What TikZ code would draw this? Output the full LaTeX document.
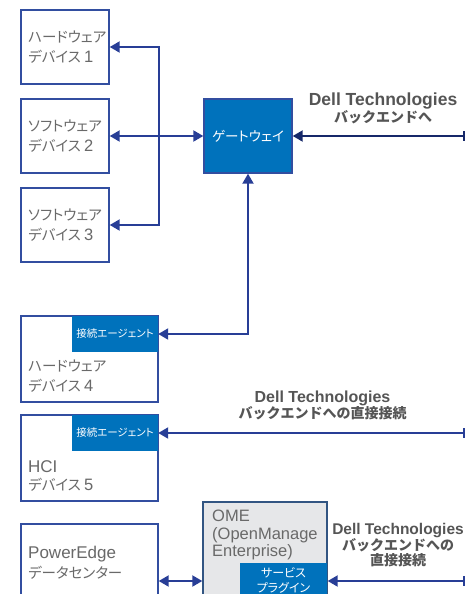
\documentclass[tikz,border=0pt]{standalone}
\usepackage{fontspec}
\setmainfont{Liberation Sans}
\newfontfamily\jp{Noto Sans CJK JP}
\newfontfamily\jpp{Noto Sans CJK JP}[RawFeature=+palt]
\newcommand{\dg}[1]{{\fontspec{Liberation Sans}\fontsize{16.5}{19}\selectfont #1}}
\usetikzlibrary{arrows.meta}
\definecolor{boxblue}{RGB}{50,78,160}
\definecolor{arrowblue}{RGB}{40,62,150}
\definecolor{navy}{RGB}{22,40,105}
\definecolor{dellblue}{RGB}{0,114,188}
\definecolor{txtgray}{RGB}{105,105,105}
\definecolor{lblgray}{RGB}{85,85,85}
\definecolor{omegray}{RGB}{230,231,233}
\definecolor{omeborder}{RGB}{50,85,130}
\begin{document}
\begin{tikzpicture}[x=1pt,y=-1pt,
  devbox/.style={draw=boxblue,line width=1.4pt,fill=white,inner sep=0pt},
  tabbox/.style={fill=dellblue,inner sep=0pt},
  tabtext/.style={text=white,inner sep=0pt,align=center},
  devtext/.style={anchor=west,align=left,inner sep=0pt,text=txtgray},
  jpt/.style={font=\jpp\fontsize{14.5}{19.5}\selectfont},
  link/.style={draw=arrowblue,line width=2pt,line join=miter,{Triangle[length=10pt,width=11pt]}-{Triangle[length=10pt,width=11pt]}},
  back/.style={draw=arrowblue,line width=2pt,{Bar[width=10pt,line width=1.5pt]}-{Triangle[length=10pt,width=11pt]}},
  dell/.style={align=center,inner sep=0pt,text=lblgray}
]
\useasboundingbox (0,0) rectangle (465,594);
\clip (0,0) rectangle (465,594);

% device boxes 1-3
\node[devbox,minimum width=88pt,minimum height=74pt] (d1) at (65,47) {};
\node[devtext,jpt] (t1) at (28,47) {ハードウェア\\デバイス \dg{1}};
\node[devbox,minimum width=88pt,minimum height=74pt] (d2) at (65,136) {};
\node[devtext,jpt] (t2) at (28,136) {ソフトウェア\\デバイス \dg{2}};
\node[devbox,minimum width=88pt,minimum height=74pt] (d3) at (65,225) {};
\node[devtext,jpt] (t3) at (28,225) {ソフトウェア\\デバイス \dg{3}};

% gateway
\node[fill=dellblue,draw=boxblue,line width=1.4pt,minimum width=88pt,minimum height=74pt,inner sep=0pt,text=white,font=\jpp\fontsize{13.5}{16}\selectfont] (gw) at (248,136) {ゲートウェイ};

% device 4
\node[devbox,minimum width=137pt,minimum height=86pt] (d4) at (89.5,359) {};
\node[tabbox,minimum width=86pt,minimum height=36pt] (a4) at (115,334) {};
\draw[boxblue,line width=1.4pt] (d4.north west) rectangle (d4.south east);
\node[tabtext,font=\jpp\fontsize{10.5}{12}\selectfont] (a4t) at (a4.center) {接続エージェント};
\node[devtext,jpt] (t4) at (28,376) {ハードウェア\\デバイス \dg{4}};

% device 5
\node[devbox,minimum width=137pt,minimum height=86pt] (d5) at (89.5,458) {};
\node[tabbox,minimum width=86pt,minimum height=36pt] (a5) at (115,433) {};
\draw[boxblue,line width=1.4pt] (d5.north west) rectangle (d5.south east);
\node[tabtext,font=\jpp\fontsize{10.5}{12}\selectfont] (a5t) at (a5.center) {接続エージェント};
\node[devtext,font=\jpp\fontsize{14.5}{18.5}\selectfont] (t5) at (28,476) {{\fontspec{Liberation Sans}\fontsize{17}{18.5}\selectfont HCI}\\デバイス \dg{5}};

% PowerEdge
\node[devbox,minimum width=137pt,minimum height=96pt] (d6) at (89.5,572) {};
\node[devtext,font=\jpp\fontsize{14.5}{20}\selectfont] (t6) at (28,563) {{\fontspec{Liberation Sans}\fontsize{17}{20}\selectfont PowerEdge}\\データセンター};

% OME
\node[fill=omegray,draw=omeborder,line width=1.4pt,minimum width=124pt,minimum height=118pt,inner sep=0pt] (ome) at (265,561) {};
\node[devtext,font=\fontsize{16.5}{17.5}\selectfont] (omet) at (212,535) {OME\\(OpenManage\\Enterprise)};
\node[tabbox,minimum width=87pt,minimum height=57pt] (pl) at (283.5,591.5) {};
\draw[omeborder,line width=1.4pt] (ome.north west) rectangle (ome.south east);
\node[tabtext,font=\jpp\fontsize{12}{15}\selectfont] (plt) at (283.5,580.5) {サービス\\プラグイン};

% connectors
\coordinate (bus3) at (159,225);
\draw[link] (d1.east) -| (bus3) -- (d3.east);
\draw[link] (d2.east) -- (gw.west);
\draw[link] (gw.south) |- (a4.east);
\coordinate (pe) at (180,581);
\draw[link] (d6.east |- pe) -- (ome.west |- pe);

\coordinate (r1) at (464.5,136);
\coordinate (r2) at (464.5,433);
\coordinate (r3) at (464.5,581);
\draw[back,draw=navy] (r1) -- (gw.east);
\draw[back] (r2) -- (a5.east);
\draw[back] (r3) -- (ome.east |- r3);

% labels
\node[dell] (l1) at (383,108.5) {{\bfseries\fontsize{17.5}{17}\selectfont Dell Technologies}\\{\jp\bfseries\fontsize{14}{17}\selectfont バックエンドへ}};
\node[dell] (l2) at (322.5,405.5) {{\bfseries\fontsize{16}{17}\selectfont Dell Technologies}\\{\jp\bfseries\fontsize{14}{17}\selectfont バックエンドへの直接接続}};
\node[dell] (l3) at (398,545) {{\bfseries\fontsize{15.5}{17.5}\selectfont Dell Technologies}\\{\jp\bfseries\fontsize{14}{17.5}\selectfont バックエンドへの}\\{\jp\bfseries\fontsize{14}{17.5}\selectfont 直接接続}};
\end{tikzpicture}
\end{document}
